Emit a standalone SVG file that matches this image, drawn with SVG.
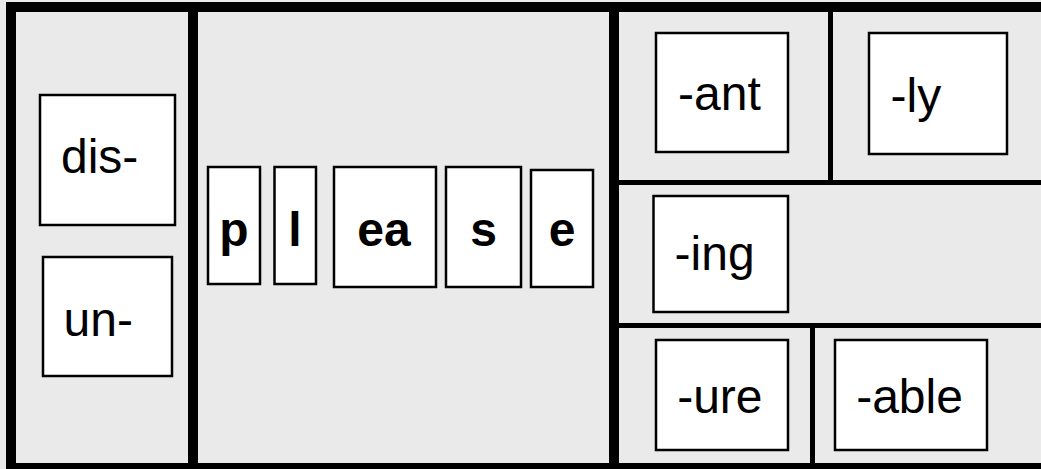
<svg xmlns="http://www.w3.org/2000/svg" width="1041" height="469" viewBox="0 0 1041 469">
  <style>
    .bg { fill: #eaeaea; }
    .wall { fill: #000000; }
    .box { fill: #ffffff; stroke: #000000; stroke-width: 2.5; }
    .aff { font-family: "Liberation Sans", Arial, Helvetica, sans-serif; font-size: 48px; fill: #000000; }
    .root { font-family: "Liberation Sans", Arial, Helvetica, sans-serif; font-size: 48px; font-weight: bold; fill: #000000; text-anchor: middle; }
  </style>
  <rect class="bg" x="0" y="0" width="1041" height="469"/>
  <g id="frame">
    <rect class="wall" x="6" y="2" width="1035" height="10"/>
    <rect class="wall" x="6" y="2" width="10" height="467"/>
    <rect class="wall" x="6" y="463" width="1035" height="10"/>
    <rect class="wall" x="188" y="12" width="10" height="451"/>
    <rect class="wall" x="609" y="12" width="10" height="451"/>
    <rect class="wall" x="614" y="180" width="427" height="5"/>
    <rect class="wall" x="828" y="12" width="5" height="168"/>
    <rect class="wall" x="614" y="323" width="427" height="5"/>
    <rect class="wall" x="810" y="328" width="5" height="135"/>
  </g>
  <g id="node-dis">
    <rect class="box" x="40" y="95" width="135" height="130"/>
    <text class="aff" x="61" y="173">dis-</text>
  </g>
  <g id="node-un">
    <rect class="box" x="43" y="257" width="129" height="119"/>
    <text class="aff" x="63.5" y="336">un-</text>
  </g>
  <g id="node-p">
    <rect class="box" x="208" y="167" width="52" height="117"/>
    <text class="root" x="234" y="246">p</text>
  </g>
  <g id="node-l">
    <rect class="box" x="274.5" y="167" width="41.5" height="117"/>
    <text class="root" x="295" y="246">l</text>
  </g>
  <g id="node-ea">
    <rect class="box" x="334" y="167" width="102" height="120"/>
    <text class="root" x="384" y="246">ea</text>
  </g>
  <g id="node-s">
    <rect class="box" x="446" y="167" width="75" height="120"/>
    <text class="root" x="483.5" y="246">s</text>
  </g>
  <g id="node-e">
    <rect class="box" x="531" y="170" width="62" height="117"/>
    <text class="root" x="562" y="246">e</text>
  </g>
  <g id="node-ant">
    <rect class="box" x="656" y="33" width="132" height="119"/>
    <text class="aff" x="678" y="110">-ant</text>
  </g>
  <g id="node-ly">
    <rect class="box" x="869" y="33" width="138" height="121"/>
    <text class="aff" x="890.6" y="111.5">-ly</text>
  </g>
  <g id="node-ing">
    <rect class="box" x="653.5" y="196" width="134.5" height="116"/>
    <text class="aff" x="674.6" y="270">-ing</text>
  </g>
  <g id="node-ure">
    <rect class="box" x="656" y="340" width="132" height="110"/>
    <text class="aff" x="677.2" y="413.3">-ure</text>
  </g>
  <g id="node-able">
    <rect class="box" x="835" y="340" width="152" height="110"/>
    <text class="aff" x="856.2" y="413.3">-able</text>
  </g>
  <g id="connectors"/>
</svg>
